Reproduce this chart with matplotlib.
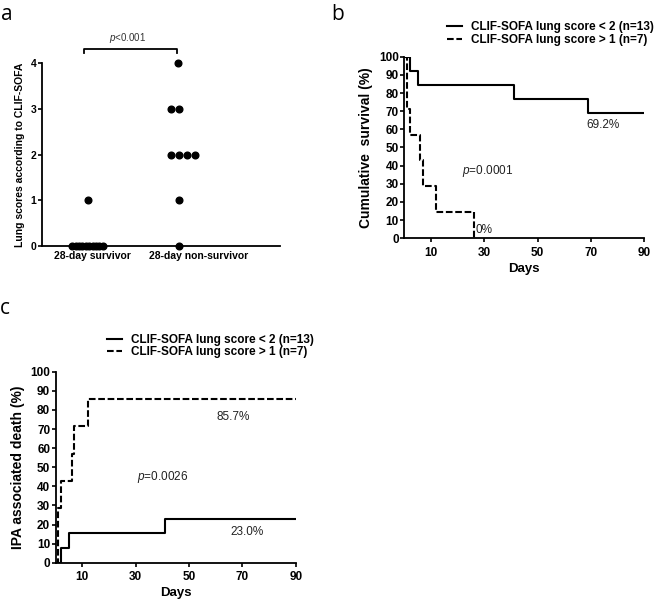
import matplotlib
matplotlib.use("Agg")
import matplotlib.pyplot as plt
from matplotlib.lines import Line2D

plt.rcParams['font.family'] = ['Liberation Sans', 'DejaVu Sans']
plt.rcParams['mathtext.fontset'] = 'custom'
plt.rcParams['mathtext.it'] = 'Liberation Sans:italic'
plt.rcParams['mathtext.rm'] = 'Liberation Sans'

# panel a: lung scores per group
groups = ['28-day survivor', '28-day non-survivor']
surv_scores = [0, 0, 0, 0, 0, 0, 0, 0, 0, 0, 1]
surv_jitter = [-0.184, -0.152, -0.121, -0.089, -0.057, -0.026, 0.006, 0.037, 0.069, 0.100, -0.04]
nonsurv_scores = [4, 3, 3, 2, 2, 2, 2, 1, 0]
nonsurv_jitter = [-0.193, -0.264, -0.187, -0.264, -0.187, -0.109, -0.034, -0.187, -0.187]

# panel b: cumulative survival (%)
b_low_days = [0, 2, 5, 41, 69, 90]
b_low_surv = [100, 92.3, 84.6, 76.9, 69.2, 69.2]
b_high_days = [0, 1, 2, 6, 7, 12, 26]
b_high_surv = [100, 71.4, 57.1, 42.9, 28.6, 14.3, 0]

# panel c: IPA associated death (%)
c_low_days = [0, 2, 5, 41, 90]
c_low_death = [0, 7.7, 15.4, 23.1, 23.1]
c_high_days = [0, 1, 2, 6, 7, 12, 90]
c_high_death = [0, 28.6, 42.9, 57.1, 71.4, 85.7, 85.7]

lab_low = 'CLIF-SOFA lung score < 2 (n=13)'
lab_high = 'CLIF-SOFA lung score > 1 (n=7)'

LW = 1.5
DASH = (3.2, 1.3)
bold = dict(fontweight='bold')

fig = plt.figure(figsize=(6.6, 5.99), dpi=100)


def style_axes(ax):
    for s in ['top', 'right']:
        ax.spines[s].set_visible(False)
    for s in ['left', 'bottom']:
        ax.spines[s].set_linewidth(1.3)
    ax.tick_params(width=1.2, length=3, pad=1, labelsize=8.5)
    for t in ax.get_xticklabels() + ax.get_yticklabels():
        t.set_fontweight('bold')


# ---- a ----
axa = fig.add_axes([41.7 / 660, 1 - 245.7 / 599, (280 - 41.7) / 660, (245.7 - 63.3) / 599])
axa.plot([1 + j for j in surv_jitter], surv_scores, 'o', color='black', ms=4.8, clip_on=False)
axa.plot([2 + j for j in nonsurv_jitter], nonsurv_scores, 'o', color='black', ms=4.8, clip_on=False)
axa.set_xlim(0.530, 2.757)
axa.set_ylim(0, 4)
axa.set_yticks([0, 1, 2, 3, 4])
axa.set_xticks([1, 2])
axa.set_xticklabels(groups)
style_axes(axa)
axa.tick_params(axis='x', length=0, pad=4, labelsize=7.5)
axa.tick_params(axis='y', labelsize=7.5)
axa.set_ylabel('Lung scores according to CLIF-SOFA', fontsize=7.5, labelpad=4, **bold)
# significance bracket
axa.plot([0.925, 0.925, 1.79, 1.79], [4.22, 4.31, 4.31, 4.22], color='black', lw=1.3, clip_on=False)
axa.text(1.33, 4.55, r'$p$<0.001', fontsize=7, ha='center', va='center', color='#333333')

# ---- b ----
axb = fig.add_axes([404.4 / 660, 1 - 238.3 / 599, (644 - 404.4) / 660, (238.3 - 56.7) / 599])
axb.step(b_low_days, b_low_surv, where='post', color='black', lw=LW, label=lab_low)
axb.step(b_high_days, b_high_surv, where='post', color='black', lw=LW, dashes=DASH, label=lab_high)
axb.set_xlim(0, 90)
axb.set_ylim(0, 100)
axb.set_xticks([10, 30, 50, 70, 90])
axb.set_yticks(range(0, 101, 10))
style_axes(axb)
axb.tick_params(axis='x', pad=3)
axb.set_xlabel('Days', fontsize=9.5, labelpad=3, **bold)
axb.set_ylabel('Cumulative  survival (%)', fontsize=10, labelpad=4, **bold)
axb.text(74.5, 62.4, '69.2%', fontsize=8.5, ha='center', va='center', color='#222222')
axb.text(31.4, 37, r'$p$=0.0001', fontsize=8.5, ha='center', va='center', color='#222222')
axb.text(26.8, 4.6, '0%', fontsize=8.5, ha='left', va='center', color='#222222')
fig.legend(handles=[Line2D([], [], color='black', lw=LW, label=lab_low),
                    Line2D([], [], color='black', lw=LW, dashes=DASH, label=lab_high)],
           loc='center left', bbox_to_anchor=(447 / 660, 1 - 33.7 / 599), frameon=False,
           borderpad=0, borderaxespad=0, handlelength=1.3, handletextpad=0.7,
           labelspacing=0.1, prop={'weight': 'bold', 'size': 8.5})

# ---- c ----
axc = fig.add_axes([55.7 / 660, 1 - 562.7 / 599, (295.7 - 55.7) / 660, (562.7 - 371.7) / 599])
axc.step(c_low_days, c_low_death, where='post', color='black', lw=LW)
axc.step(c_high_days, c_high_death, where='post', color='black', lw=LW, dashes=DASH)
axc.set_xlim(0, 90)
axc.set_ylim(0, 100)
axc.set_xticks([10, 30, 50, 70, 90])
axc.set_yticks(range(0, 101, 10))
style_axes(axc)
axc.tick_params(axis='x', pad=3)
axc.set_xlabel('Days', fontsize=9.5, labelpad=3, **bold)
axc.set_ylabel('IPA associated death (%)', fontsize=10, labelpad=4, **bold)
axc.text(66.6, 76.4, '85.7%', fontsize=8.5, ha='center', va='center', color='#222222')
axc.text(39.9, 45, r'$p$=0.0026', fontsize=8.5, ha='center', va='center', color='#222222')
axc.text(71.8, 16.2, '23.0%', fontsize=8.5, ha='center', va='center', color='#222222')
fig.legend(handles=[Line2D([], [], color='black', lw=LW, label=lab_low),
                    Line2D([], [], color='black', lw=LW, dashes=DASH, label=lab_high)],
           loc='center left', bbox_to_anchor=(107 / 660, 1 - 346.4 / 599), frameon=False,
           borderpad=0, borderaxespad=0, handlelength=1.3, handletextpad=0.7,
           labelspacing=0.0, prop={'weight': 'bold', 'size': 8.5})

# panel letters
for letter, x, y in [('a', 1, 14), ('b', 331, 14), ('c', 0, 308)]:
    fig.text(x / 660, 1 - y / 599, letter, fontsize=15, family='Open Sans', va='center', ha='left')

fig.savefig('out.png', dpi=100)
